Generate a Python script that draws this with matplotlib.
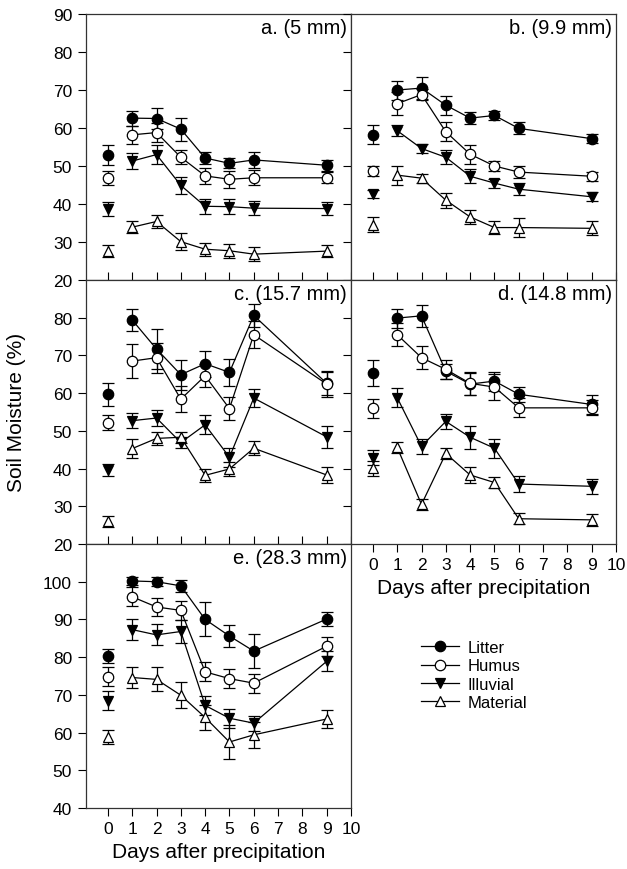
import matplotlib
matplotlib.use("Agg")
import matplotlib.pyplot as plt
from matplotlib.lines import Line2D

plt.rcParams['font.family'] = ['Liberation Sans', 'DejaVu Sans']

days = [0, 1, 2, 3, 4, 5, 6, 9]
series_names = ["Litter", "Humus", "Illuvial", "Material"]

# Panel a (5 mm)
a_litter = [52.8, 62.6, 62.5, 59.7, 52.1, 50.7, 51.6, 50.2]
a_litter_err = [2.6, 2.0, 2.7, 3.0, 1.7, 1.3, 2.0, 1.5]
a_humus = [46.9, 58.2, 58.8, 52.3, 47.4, 46.5, 46.9, 46.9]
a_humus_err = [1.8, 2.3, 2.5, 1.8, 2.2, 2.3, 2.0, 1.5]
a_illuvial = [38.6, 51.3, 53.0, 44.9, 39.4, 39.3, 38.9, 38.8]
a_illuvial_err = [1.8, 2.0, 2.5, 2.2, 2.0, 2.0, 1.8, 1.6]
a_material = [27.6, 33.9, 35.4, 30.1, 28.1, 27.7, 26.8, 27.6]
a_material_err = [1.5, 1.5, 1.8, 2.2, 1.7, 1.8, 1.8, 1.5]

# Panel b (9.9 mm)
b_litter = [58.2, 70.0, 70.5, 66.0, 62.6, 63.3, 59.9, 57.2]
b_litter_err = [2.5, 2.5, 2.8, 2.5, 1.5, 1.2, 1.6, 1.2]
b_humus = [48.8, 66.4, 68.8, 59.0, 53.1, 50.0, 48.4, 47.3]
b_humus_err = [1.3, 3.0, 1.5, 2.5, 2.5, 1.3, 1.5, 1.2]
b_illuvial = [42.6, 59.3, 54.6, 52.3, 47.3, 45.5, 43.9, 41.9]
b_illuvial_err = [1.0, 1.5, 1.3, 1.8, 1.8, 1.2, 1.5, 1.2]
b_material = [34.6, 47.6, 46.8, 41.0, 36.6, 33.8, 33.8, 33.6]
b_material_err = [2.0, 2.5, 1.2, 2.0, 1.8, 1.8, 2.5, 1.8]

# Panel c (15.7 mm)
c_litter = [59.7, 79.4, 71.7, 64.9, 67.8, 65.5, 80.6, 62.6]
c_litter_err = [3.0, 3.0, 5.3, 4.0, 3.5, 3.5, 3.0, 3.0]
c_humus = [52.2, 68.5, 69.4, 58.4, 64.6, 55.9, 75.5, 62.4]
c_humus_err = [2.0, 4.5, 4.0, 3.5, 3.0, 3.0, 3.5, 3.5]
c_illuvial = [39.6, 52.7, 53.4, 46.9, 51.6, 43.0, 58.7, 48.4]
c_illuvial_err = [1.5, 2.0, 2.0, 1.5, 2.5, 2.5, 2.5, 3.0]
c_material = [26.0, 45.3, 48.0, 48.3, 38.2, 39.9, 45.4, 38.3]
c_material_err = [1.5, 2.5, 1.8, 1.5, 1.8, 1.8, 1.8, 2.0]

# Panel d (14.8 mm)
d_litter = [65.4, 79.9, 80.5, 65.8, 62.4, 63.2, 59.7, 57.0]
d_litter_err = [3.5, 2.5, 3.0, 2.0, 3.0, 2.5, 2.0, 2.5]
d_humus = [56.0, 75.5, 69.4, 66.3, 62.6, 61.6, 56.1, 56.1]
d_humus_err = [2.5, 3.0, 3.0, 2.5, 3.0, 3.5, 2.5, 2.0]
d_illuvial = [42.9, 58.8, 45.9, 52.5, 48.3, 45.4, 35.9, 35.3]
d_illuvial_err = [2.0, 2.5, 2.0, 2.0, 3.0, 2.5, 2.0, 2.0]
d_material = [40.1, 45.6, 30.5, 44.0, 38.3, 36.3, 26.7, 26.4]
d_material_err = [2.0, 1.5, 1.5, 1.5, 2.0, 1.5, 1.5, 1.5]

# Panel e (28.3 mm)
e_litter = [80.3, 100.2, 100.0, 98.9, 90.0, 85.6, 81.6, 90.1]
e_litter_err = [1.8, 1.0, 1.2, 1.5, 4.5, 3.0, 4.5, 1.8]
e_humus = [74.8, 96.0, 93.3, 92.4, 76.1, 74.3, 73.1, 82.9]
e_humus_err = [2.5, 2.5, 2.5, 2.5, 2.5, 2.5, 2.5, 2.5]
e_illuvial = [68.4, 87.3, 85.9, 86.8, 67.2, 63.8, 62.5, 78.9]
e_illuvial_err = [2.5, 2.7, 2.8, 3.0, 2.5, 2.5, 2.0, 2.7]
e_material = [58.9, 74.6, 74.1, 69.9, 64.0, 57.5, 59.4, 63.6]
e_material_err = [1.8, 2.8, 3.2, 3.5, 3.2, 4.5, 3.5, 2.5]

panel_titles = ["a. (5 mm)", "b. (9.9 mm)", "c. (15.7 mm)", "d. (14.8 mm)", "e. (28.3 mm)"]
x_ticks = list(range(0, 11))
xlabel = "Days after precipitation"
ylabel = "Soil Moisture (%)"

panels = [
    [(a_litter, a_litter_err), (a_humus, a_humus_err), (a_illuvial, a_illuvial_err), (a_material, a_material_err)],
    [(b_litter, b_litter_err), (b_humus, b_humus_err), (b_illuvial, b_illuvial_err), (b_material, b_material_err)],
    [(c_litter, c_litter_err), (c_humus, c_humus_err), (c_illuvial, c_illuvial_err), (c_material, c_material_err)],
    [(d_litter, d_litter_err), (d_humus, d_humus_err), (d_illuvial, d_illuvial_err), (d_material, d_material_err)],
    [(e_litter, e_litter_err), (e_humus, e_humus_err), (e_illuvial, e_illuvial_err), (e_material, e_material_err)],
]

styles = [
    dict(marker='o', mfc='black'),
    dict(marker='o', mfc='white'),
    dict(marker='v', mfc='black'),
    dict(marker='^', mfc='white'),
]

W, H = 627, 870
fig = plt.figure(figsize=(W / 100, H / 100), dpi=100)

def rect(l, r, t, b):
    return [l / W, 1 - b / H, (r - l) / W, (b - t) / H]

rects = [
    rect(86, 351, 15, 281),
    rect(351, 616, 15, 281),
    rect(86, 351, 281, 545),
    rect(351, 616, 281, 545),
    rect(86, 351, 545, 809),
]
ylims = [(20, 90), (20, 90), (20, 90), (20, 90), (40, 110)]
yticks = [list(range(20, 91, 10)), list(range(20, 91, 10)), list(range(20, 81, 10)),
          list(range(20, 81, 10)), list(range(40, 101, 10))]

ms = 7.5
for i, (r, data) in enumerate(zip(rects, panels)):
    ax = fig.add_axes(r)
    for (vals, errs), st in zip(data, styles):
        ax.errorbar(days[:1], vals[:1], yerr=errs[:1], fmt='none', ecolor='black',
                    elinewidth=0.9, capsize=4, capthick=0.9, zorder=2)
        ax.errorbar(days[1:], vals[1:], yerr=errs[1:], fmt='none', ecolor='black',
                    elinewidth=0.9, capsize=4, capthick=0.9, zorder=2)
        ax.plot(days[1:], vals[1:], color='black', lw=0.9, zorder=3)
        ax.plot(days, vals, linestyle='none', marker=st['marker'], ms=ms,
                mfc=st['mfc'], mec='black', mew=0.9, zorder=4)
    ax.set_xlim(-0.9, 10)
    ax.set_ylim(*ylims[i])
    ax.set_xticks(x_ticks)
    ax.set_yticks(yticks[i])
    for s in ax.spines.values():
        s.set_linewidth(0.9)
        s.set_color('#333333')
    ax.text(0.985, 0.985, panel_titles[i], transform=ax.transAxes, ha='right', va='top',
            fontsize=14.5)
    if i in (3, 4):
        ax.tick_params(axis='x', direction='out', length=5.5, width=0.8, labelsize=12.5, pad=4)
        ax.set_xlabel(xlabel, fontsize=15, labelpad=4)
    else:
        ax.tick_params(axis='x', direction='in', length=5.5, width=0.8, labelbottom=False)
    if i in (0, 2, 4):
        ax.tick_params(axis='y', direction='out', length=6, width=0.8, labelsize=12.5, pad=4)
    else:
        ax.tick_params(axis='y', direction='out', length=6, width=0.8, labelleft=False)

fig.text(17 / W, 1 - 412 / H, ylabel, rotation=90, ha='center', va='center', fontsize=15)

handles = [Line2D([0], [0], color='black', lw=0.9, marker=st['marker'], ms=ms,
                  mfc=st['mfc'], mec='black', mew=0.9) for st in styles]
fig.legend(handles, series_names, loc='upper left', bbox_to_anchor=(421 / W, 1 - 641 / H),
           frameon=False, fontsize=12, handlelength=2.3, handletextpad=0.5,
           labelspacing=0.2, borderpad=0, borderaxespad=0)

fig.savefig("out.png", dpi=100)
